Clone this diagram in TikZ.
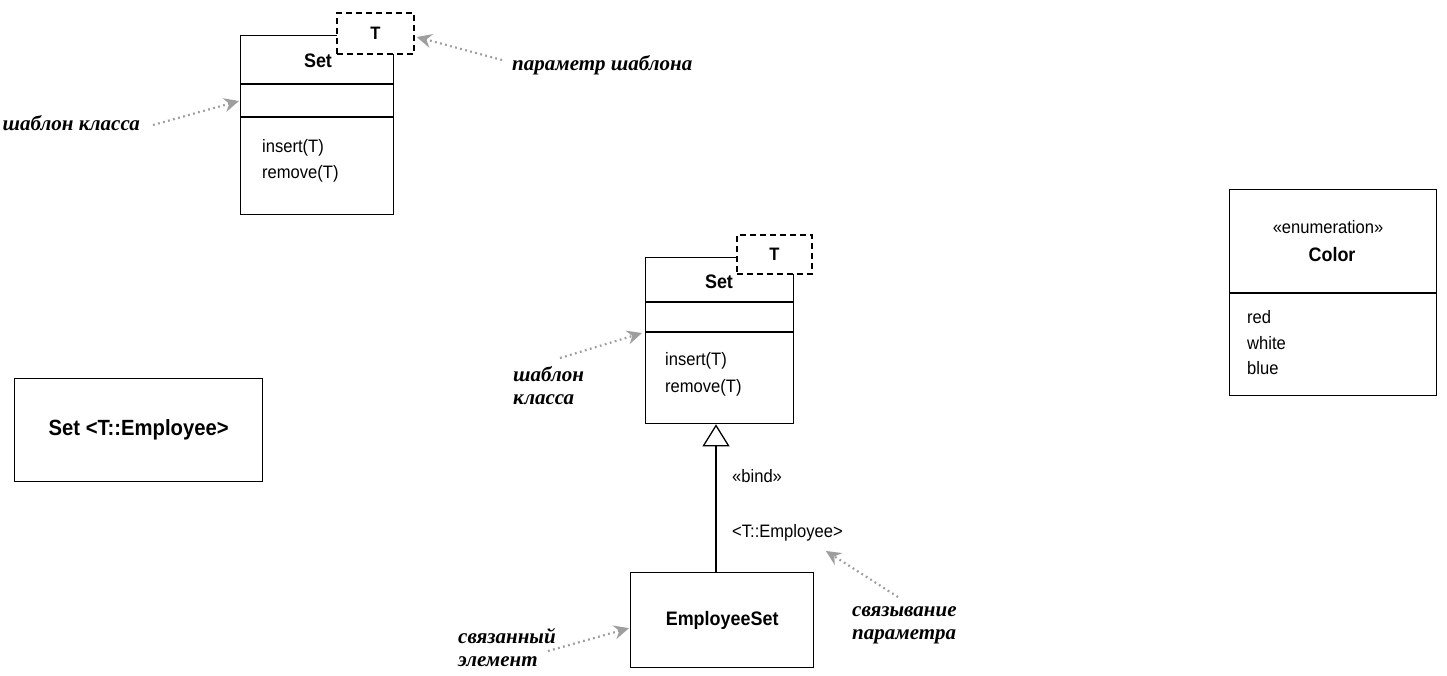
\documentclass[tikz,border=0pt]{standalone}
\usepackage{fontspec}
\setmainfont{Liberation Sans}[FakeStretch=0.92]
\newfontfamily\handfont{Liberation Serif}
\usetikzlibrary{arrows.meta,calc}
\begin{document}
\begin{tikzpicture}[x=1pt,y=-1pt,
  box/.style={draw, line width=1.3pt, inner sep=0pt},
  tbox/.style={draw, dash pattern=on 6pt off 4pt, fill=white, line width=1.3pt, inner sep=0pt,
    font=\fontsize{18}{20}\selectfont\bfseries},
  sep/.style={line width=1.3pt},
  cname/.style={inner sep=0pt, font=\fontsize{19.5}{22}\selectfont\bfseries},
  txt/.style={inner sep=0pt, font=\fontsize{18}{20}\selectfont},
  note/.style={inner sep=0pt, align=left, font=\handfont\fontsize{21}{23}\selectfont\bfseries\itshape},
  noteline/.style={draw=black!38, line width=2.2pt, dash pattern=on 1.8pt off 3.4pt,
    -{Stealth[length=15pt,width=14pt,inset=5pt,fill=black!38]}},
  bindline/.style={line width=1.3pt, -{Triangle[open,length=22pt,width=27pt,fill=white]}}
]
\useasboundingbox (0,0) rectangle (1447,675);

% ---------- template class (top left)
\node[box, minimum width=153pt, minimum height=179pt, anchor=north west] (set1) at (240,35) {};
\draw[sep] (240,84) -- (393,84);
\draw[sep] (240,117) -- (393,117);
\node[cname] (set1name) at (318,61) {Set};
\node[txt, anchor=base west] (set1op1) at (262,152) {insert(T)};
\node[txt, anchor=base west] (set1op2) at (262,178) {remove(T)};
\node[tbox, minimum width=77pt, minimum height=41pt] (t1) at (375.5,33.5) {T};

\node[note, anchor=base east] (n1) at (140,130) {шаблон класса};
\coordinate (n1tail) at (153,125);
\draw[noteline] (n1tail) -- ($(set1.north west)+(-1,66)$);

\node[note, anchor=base west] (n2) at (512,70) {параметр шаблона};
\coordinate (n2tail) at (502,60);
\draw[noteline] (n2tail) -- ($(t1.east)+(2,3.5)$);

% ---------- bound element
\node[box, minimum width=248pt, minimum height=103pt, anchor=north west,
      font=\fontsize{22}{24}\selectfont\bfseries] (setemp) at (14,378) {Set <T::Employee>};

% ---------- template class (middle)
\node[box, minimum width=148pt, minimum height=166pt, anchor=north west] (set2) at (645,257) {};
\draw[sep] (645,302) -- (793,302);
\draw[sep] (645,332) -- (793,332);
\node[cname] (set2name) at (719,282) {Set};
\node[txt, anchor=base west] (set2op1) at (665,365) {insert(T)};
\node[txt, anchor=base west] (set2op2) at (665,392) {remove(T)};
\node[tbox, minimum width=75pt, minimum height=39pt] (t2) at (774.5,254.5) {T};

\node[note, anchor=west] (n3) at (513,386) {шаблон\\класса};
\coordinate (n3tail) at (560,358);
\draw[noteline] (n3tail) -- ($(set2.north west)+(-3,76)$);

\node[box, minimum width=183pt, minimum height=95pt, anchor=north west,
      font=\fontsize{19.5}{22}\selectfont\bfseries] (empset) at (630,572) {EmployeeSet};
\draw[bindline] ($(empset.north west)+(86,0)$) -- ($(set2.south west)+(71,0)$);

\node[txt, anchor=base west] (bind) at (732,482) {«bind»};
\node[txt, anchor=base west] (bindparam) at (732,537) {<T::Employee>};

\node[note, anchor=west] (n4) at (458,647.5) {связанный\\элемент};
\coordinate (n4tail) at (548,651);
\draw[noteline] (n4tail) -- ($(empset.west)+(-1,8)$);

\node[note, anchor=west] (n5) at (852,625.5) {связывание\\параметра};
\coordinate (n5tail) at (898,597);
\draw[noteline] (n5tail) -- ($(bindparam.south east)+(-17,10)$);

% ---------- enumeration
\node[box, minimum width=207pt, minimum height=206pt, anchor=north west] (color) at (1229,189) {};
\draw[sep] (1229,293) -- (1436,293);
\node[txt, anchor=base] (enumst) at (1328,233) {«enumeration»};
\node[cname, anchor=base] (colorname) at (1332,261) {Color};
\node[txt, anchor=base west] (lit1) at (1247,323) {red};
\node[txt, anchor=base west] (lit2) at (1247,349) {white};
\node[txt, anchor=base west] (lit3) at (1247,374) {blue};
\end{tikzpicture}
\end{document}
